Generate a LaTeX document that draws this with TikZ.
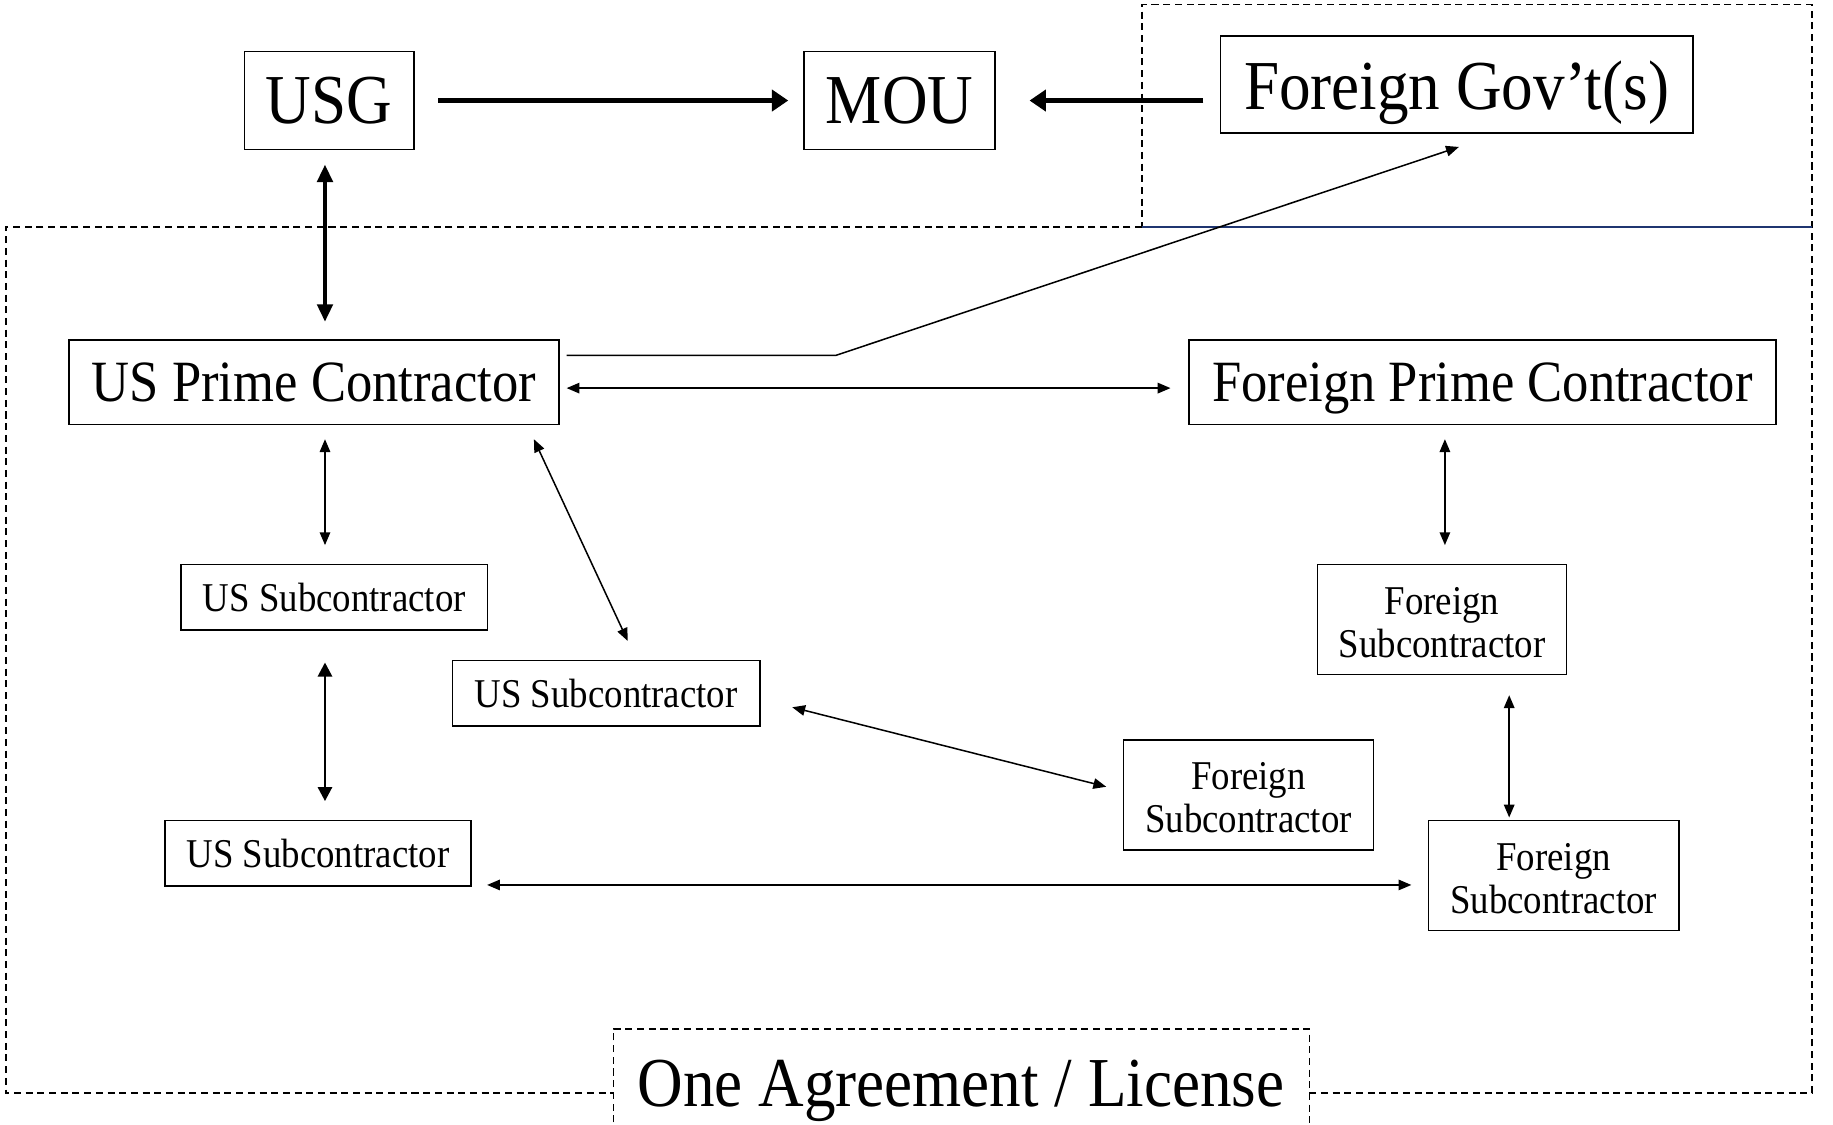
\documentclass[tikz,border=0pt]{standalone}
\usepackage{fontspec}
\setmainfont{Liberation Serif}
\usetikzlibrary{arrows.meta,calc}
\newcommand{\hsq}[1]{\scalebox{0.9}[1]{#1}}
\definecolor{navy}{HTML}{1F3570}
\begin{document}
\begin{tikzpicture}[x=1pt,y=-1pt,
  box/.style={draw,line width=1.4pt,inner sep=0pt,align=center,text depth=0pt},
  big/.style={box,font=\fontsize{60}{64}\selectfont},
  prime/.style={box,font=\fontsize{50}{54}\selectfont},
  sub/.style={box,font=\fontsize{35}{37}\selectfont},
  subtwo/.style={sub,text depth=18pt},
  heavyone/.style={line width=4.5pt,-{Triangle[length=14pt,width=18pt]}},
  heavyarr/.style={line width=3.6pt,{Triangle[length=15pt,width=13pt]}-{Triangle[length=15pt,width=13pt]}},
  midarr/.style={line width=2.3pt,{Triangle[length=12pt,width=12pt]}-{Triangle[length=12pt,width=12pt]}},
  thinarr/.style={line width=1.3pt,{Triangle[length=11pt,width=9pt]}-{Triangle[length=11pt,width=9pt]}},
  thinone/.style={line width=1.3pt,-{Triangle[length=11pt,width=9pt]}},
  dashbox/.style={line width=1.3pt,dash pattern=on 6pt off 4pt}]
\fill[white] (0,0) rectangle (1568,962);
\useasboundingbox (0,0) rectangle (1568,962);

% dashed regions
\begin{scope}
\clip (0,0) rectangle (1568,962);
\draw[dashbox] (977,194) -- (5,194) -- (5,935) -- (525,935);
\draw[dashbox] (1120,935) -- (1550,935) -- (1550,4) -- (977,4) -- (977,194);
\draw[dashbox] (525,970) -- (525,880) -- (1120,880) -- (1120,970);
\draw[navy,line width=2pt] (977,194) -- (1550,194);
\end{scope}

% nodes
\node[big,minimum width=145pt,minimum height=84pt] (usg) at (281.5,86) {\hsq{USG}};
\node[big,minimum width=163pt,minimum height=84pt] (mou) at (769.5,86) {\hsq{MOU}};
\node[big,minimum width=404pt,minimum height=83pt] (fgov) at (1246,72.5) {\hsq{Foreign Gov’t(s)}};
\node[prime,minimum width=419pt,minimum height=72pt] (usp) at (268.5,327) {\hsq{US Prime Contractor}};
\node[prime,minimum width=502pt,minimum height=72pt] (fp) at (1268,327) {\hsq{Foreign Prime Contractor}};
\node[sub,minimum width=262pt,minimum height=56pt] (uss1) at (286,511) {\hsq{US Subcontractor}};
\node[sub,minimum width=263pt,minimum height=56pt] (uss2) at (518.5,593) {\hsq{US Subcontractor}};
\node[sub,minimum width=262pt,minimum height=56pt] (uss3) at (272,730) {\hsq{US Subcontractor}};
\node[subtwo,minimum width=213pt,minimum height=94pt] (fs1) at (1233.5,530) {\hsq{\begin{tabular}{@{}c@{}}Foreign\\Subcontractor\end{tabular}}};
\node[subtwo,minimum width=214pt,minimum height=94pt] (fs2) at (1068,680) {\hsq{\begin{tabular}{@{}c@{}}Foreign\\Subcontractor\end{tabular}}};
\node[subtwo,minimum width=214pt,minimum height=94pt] (fs3) at (1329,749) {\hsq{\begin{tabular}{@{}c@{}}Foreign\\Subcontractor\end{tabular}}};
\node[font=\fontsize{60}{64}\selectfont,inner sep=0pt,text depth=0pt] (agree) at (822,927) {\hsq{One Agreement / License}};

\coordinate (bend) at (715,304);

% connectors
\draw[heavyone] ($(usg.east)+(20,0)$) -- ($(mou.west)+(-13,0)$);
\draw[heavyone] ($(fgov.west |- mou.east)+(-14,0)$) -- ($(mou.east)+(29,0)$);
\draw[heavyarr] ($(usg.south)+(-3.5,12)$) -- ($(usg.south |- usp.north)+(-3.5,-15)$);
\draw[thinone] ($(usp.east)+(6,-23)$) -- (bend) -- ($(fgov.south)+(2,11)$);
\draw[thinarr] ($(usp.east)+(6,5)$) -- ($(fp.west)+(-15,5)$);
\draw[thinarr] ($(usp.south)+(9.5,12)$) -- ($(uss1.north)+(-8,-16)$);
\draw[midarr] ($(uss1.south)+(-8,27)$) -- ($(uss3.north)+(6,-16)$);
\draw[thinarr] ($(usp.south east)+(-22,12)$) -- ($(uss2.north)+(18.5,-16)$);
\draw[thinarr] ($(uss2.east)+(27,12)$) -- ($(fs2.west)+(-14,-7)$);
\draw[thinarr] ($(uss3.east)+(13,27)$) -- ($(fs3.west)+(-14,8)$);
\draw[thinarr] ($(fp.south)+(-32,12)$) -- ($(fs1.north)+(2.5,-16)$);
\draw[thinarr] ($(fs1.south)+(57.5,17)$) -- ($(fs3.north)+(-38,-2)$);
\end{tikzpicture}
\end{document}
